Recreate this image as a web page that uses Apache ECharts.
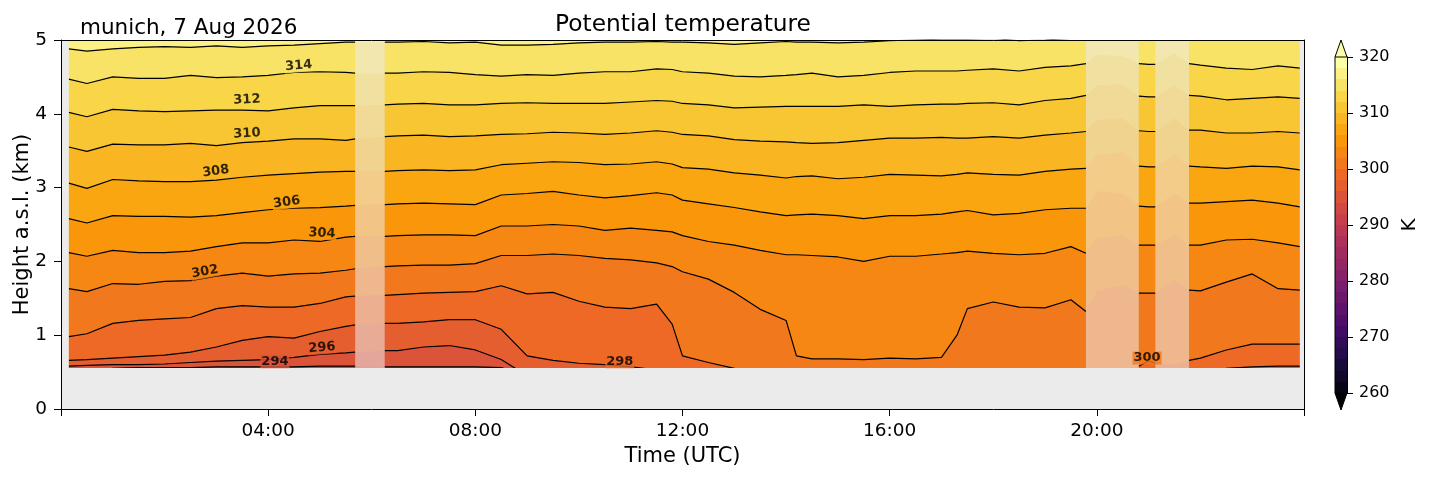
<!DOCTYPE html>
<html>
<head>
<meta charset="utf-8">
<script src="https://cdn.jsdelivr.net/npm/echarts@6/dist/echarts.min.js"></script>
<style>
html,body{margin:0;padding:0;background:#fff}
#chart{width:1429px;height:478px}
</style>
</head>
<body>
<div id="chart"></div>
<script>
// time of each profile, hours UTC
var times = [0.15,0.5,1,1.5,2,2.5,3,3.5,4,4.5,5,5.5,5.68,6,6.25,6.5,7,7.5,8,8.5,9,9.5,10,10.5,11,11.5,11.8,12,12.5,13,13.5,14,14.2,14.5,15,15.5,16,16.5,17,17.3,17.5,18,18.5,19,19.5,19.79,20,20.5,20.81,21,21.13,21.5,21.78,22,22.5,23,23.5,23.92];

// height (km) of each isentrope
var h316 = [4.88,4.85,4.88,4.90,4.91,4.90,4.92,4.90,4.92,4.93,4.95,4.97,4.97,4.97,4.97,4.97,4.98,4.96,4.97,4.93,4.93,4.94,4.96,4.97,4.97,4.98,4.97,4.97,4.96,4.94,4.96,4.98,4.97,4.97,4.96,4.97,4.99,5.00,5.01,5.01,5.01,5.02,4.99,5.00,5.02,5.05,5.05,5.05,5.05,5.05,5.05,5.05,5.05,5.05,5.05,5.05,5.05,5.05];
var h314 = [4.47,4.41,4.50,4.48,4.48,4.52,4.49,4.50,4.52,4.56,4.57,4.56,4.55,4.55,4.55,4.55,4.57,4.56,4.53,4.51,4.53,4.52,4.55,4.57,4.57,4.61,4.60,4.57,4.55,4.51,4.50,4.52,4.53,4.55,4.50,4.52,4.56,4.58,4.58,4.58,4.59,4.61,4.58,4.63,4.65,4.68,4.80,4.78,4.68,4.67,4.67,4.82,4.68,4.66,4.62,4.60,4.65,4.62];
var h312 = [4.02,3.96,4.06,4.04,4.03,4.04,4.05,4.05,4.04,4.08,4.11,4.11,4.11,4.12,4.12,4.13,4.14,4.12,4.12,4.14,4.15,4.14,4.14,4.14,4.16,4.18,4.17,4.14,4.12,4.08,4.09,4.10,4.10,4.10,4.10,4.12,4.10,4.12,4.13,4.13,4.14,4.15,4.12,4.18,4.21,4.25,4.39,4.40,4.24,4.23,4.23,4.39,4.25,4.24,4.19,4.21,4.23,4.21];
var h310 = [3.55,3.49,3.59,3.58,3.58,3.60,3.57,3.61,3.63,3.66,3.66,3.64,3.66,3.68,3.69,3.70,3.71,3.69,3.70,3.72,3.73,3.75,3.74,3.72,3.74,3.77,3.75,3.72,3.70,3.65,3.63,3.62,3.61,3.60,3.61,3.64,3.67,3.67,3.68,3.67,3.67,3.69,3.67,3.71,3.74,3.76,3.92,3.94,3.77,3.76,3.76,3.94,3.78,3.78,3.74,3.74,3.76,3.74];
var h308 = [3.06,2.99,3.11,3.09,3.08,3.08,3.10,3.14,3.17,3.19,3.21,3.22,3.22,3.22,3.22,3.23,3.24,3.23,3.24,3.31,3.33,3.35,3.34,3.31,3.32,3.35,3.32,3.27,3.25,3.20,3.17,3.13,3.15,3.16,3.12,3.14,3.18,3.17,3.16,3.18,3.20,3.18,3.17,3.22,3.25,3.26,3.44,3.48,3.29,3.28,3.28,3.44,3.29,3.28,3.26,3.29,3.28,3.24];
var h306 = [2.58,2.52,2.62,2.61,2.61,2.60,2.62,2.66,2.70,2.72,2.73,2.75,2.76,2.77,2.77,2.78,2.79,2.78,2.77,2.90,2.92,2.95,2.90,2.86,2.89,2.93,2.90,2.83,2.78,2.73,2.67,2.62,2.63,2.64,2.62,2.58,2.62,2.62,2.64,2.67,2.69,2.63,2.65,2.70,2.72,2.72,2.95,2.92,2.75,2.74,2.74,2.92,2.79,2.79,2.81,2.83,2.79,2.74];
var h304 = [2.12,2.07,2.15,2.12,2.12,2.14,2.20,2.25,2.25,2.29,2.27,2.33,2.34,2.34,2.34,2.35,2.36,2.36,2.35,2.48,2.48,2.50,2.48,2.42,2.45,2.42,2.40,2.35,2.27,2.22,2.15,2.09,2.09,2.08,2.06,2.00,2.07,2.07,2.10,2.12,2.14,2.11,2.09,2.11,2.20,2.11,2.31,2.36,2.22,2.22,2.22,2.36,2.22,2.22,2.29,2.30,2.25,2.20];
var h302 = [1.63,1.59,1.70,1.69,1.73,1.74,1.80,1.84,1.80,1.83,1.84,1.88,1.90,1.92,1.93,1.94,1.95,1.95,1.97,2.08,2.08,2.10,2.08,2.04,2.02,1.98,1.93,1.86,1.76,1.58,1.35,1.20,0.72,0.68,0.68,0.67,0.69,0.68,0.70,1.00,1.36,1.45,1.38,1.37,1.48,1.32,1.60,1.68,1.57,1.57,1.57,1.75,1.61,1.60,1.72,1.83,1.63,1.61];
var h300 = [0.98,1.02,1.16,1.20,1.22,1.24,1.36,1.40,1.38,1.38,1.43,1.52,1.53,1.54,1.54,1.55,1.57,1.58,1.59,1.67,1.56,1.58,1.46,1.38,1.36,1.42,1.15,0.72,0.63,0.55,0.45,0.45,0.45,0.45,0.45,0.45,0.45,0.45,0.45,0.45,0.45,0.45,0.45,0.45,0.45,0.45,0.50,0.55,0.58,0.65,0.62,0.60,0.66,0.69,0.80,0.88,0.88,0.88];
var h298 = [0.66,0.67,0.69,0.71,0.73,0.77,0.84,0.93,0.98,0.96,1.05,1.12,1.14,1.15,1.16,1.16,1.18,1.21,1.21,1.08,0.72,0.66,0.62,0.60,0.57,0.53,0.45,0.45,0.45,0.45,0.45,0.45,0.45,0.45,0.45,0.45,0.45,0.45,0.45,0.45,0.45,0.45,0.45,0.45,0.45,0.45,0.45,0.45,0.45,0.45,0.45,0.45,0.45,0.45,0.55,0.57,0.58,0.58];
var h296 = [0.58,0.59,0.60,0.60,0.61,0.63,0.65,0.66,0.67,0.70,0.74,0.76,0.77,0.78,0.79,0.79,0.84,0.86,0.80,0.67,0.45,0.45,0.45,0.45,0.45,0.45,0.45,0.45,0.45,0.45,0.45,0.45,0.45,0.45,0.45,0.45,0.45,0.45,0.45,0.45,0.45,0.45,0.45,0.45,0.45,0.45,0.45,0.45,0.45,0.45,0.45,0.45,0.45,0.45,0.45,0.45,0.45,0.45];
var h294 = [0.45,0.45,0.55,0.56,0.56,0.56,0.57,0.57,0.57,0.57,0.58,0.58,0.58,0.58,0.57,0.57,0.57,0.57,0.57,0.56,0.45,0.45,0.45,0.45,0.45,0.45,0.45,0.45,0.45,0.45,0.45,0.45,0.45,0.45,0.45,0.45,0.45,0.45,0.45,0.45,0.45,0.45,0.45,0.45,0.45,0.45,0.45,0.45,0.45,0.45,0.45,0.45,0.45,0.45,0.45,0.45,0.45,0.45];

var levels = [316,314,312,310,308,306,304,302,300,298,296,294];
var heights = [h316,h314,h312,h310,h308,h306,h304,h302,h300,h298,h296,h294];

// periods without data (hours UTC)
var gapStart = [5.68, 19.79, 21.13];
var gapEnd = [6.25, 20.81, 21.78];
var firstTime = 0.15, lastTime = 23.92, groundTop = 0.555;

// inline contour labels
var labelText = ['314','312','310','308','306','304','302','296','294','298','300'];
var labelLevel = [314,312,310,308,306,304,302,296,294,298,300];
var labelTime = [4.59,3.59,3.59,2.99,4.36,5.04,2.78,5.04,4.13,10.79,20.97];
var labelHeight = [4.65,4.19,3.73,3.22,2.80,2.38,1.86,0.83,0.64,0.64,0.69];
var labelAngle = [5,3,3,8,8,-3,10,5,0,0,0];

var FONT = 'DejaVu Sans';
var inferno = ['#000004','#1b0c42','#4b0c6b','#781c6d','#a52c60','#cf4446','#ed6925','#fb9b06','#f7d13d','#fcffa4'];
function hex(c){ return [parseInt(c.substr(1,2),16),parseInt(c.substr(3,2),16),parseInt(c.substr(5,2),16)]; }
function cmap(f){
	f = Math.max(0, Math.min(1, f));
	var p = f*9, i = Math.min(8, Math.floor(p)), t = p - i;
	var a = hex(inferno[i]), b = hex(inferno[i+1]);
	return 'rgb(' + Math.round(a[0]+(b[0]-a[0])*t) + ',' + Math.round(a[1]+(b[1]-a[1])*t) + ',' + Math.round(a[2]+(b[2]-a[2])*t) + ')';
}
function bandColor(L){ return cmap((L - 260)/60); }
function inGap(t){
	for(var g=0; g<gapStart.length; g++){ if(t > gapStart[g] && t < gapEnd[g]) return true; }
	return false;
}

var series = [];
// filled bands: each isentrope fills down to the axis with the colour of the band below it
levels.forEach(function(L, k){
	series.push({
		type:'line', silent:true, symbol:'none', z:2, animation:false,
		data: times.map(function(t,i){ return [t, heights[k][i]]; }),
		lineStyle:{width:0},
		areaStyle:{color:bandColor(L), opacity:1, origin:'start'}
	});
});
// black contour lines, broken in the data gaps
levels.forEach(function(L, k){
	series.push({
		type:'line', silent:true, symbol:'none', z:3, animation:false,
		data: times.map(function(t,i){ return [t, inGap(t) ? '-' : heights[k][i]]; }),
		lineStyle:{color:'#000', width:1.2}
	});
});
// masks: ground, no-data edges and faded gaps
var masks = [[0,0,24,groundTop,0],[0,0,firstTime,5,0],[lastTime,0,24,5,0]];
gapStart.forEach(function(s,g){ masks.push([s,groundTop,gapEnd[g],5,1]); });
series.push({
	type:'custom', silent:true, z:4, animation:false, clip:true,
	data: masks,
	renderItem: function(params, api){
		var p0 = api.coord([api.value(0), api.value(3)]);
		var p1 = api.coord([api.value(2), api.value(1)]);
		var faded = api.value(4) === 1;
		return {type:'rect', shape:{x:p0[0], y:p0[1], width:p1[0]-p0[0], height:p1[1]-p0[1]},
			style:{fill: faded ? 'rgba(235,235,235,0.55)' : '#ebebeb'}};
	}
});
// contour labels (the box hides the line under the text, like an inline label)
series.push({
	type:'scatter', silent:true, z:5, animation:false, symbolSize:1, itemStyle:{color:'rgba(0,0,0,0)'},
	data: labelText.map(function(s,i){
		return {name:s, value:[labelTime[i], labelHeight[i]],
			label:{rotate:labelAngle[i], backgroundColor:bandColor(labelLevel[i]+2)}};
	}),
	label:{show:true, position:'inside', formatter:'{b}', color:'#000', fontWeight:'bold', fontSize:13, fontFamily:FONT, padding:[0,1]}
});

// discrete colour bar, one step per 2 K band
var cb = {left:1335, top:57, width:12, height:336, tip:17};
var stops = [];
for(var b=260; b<320; b+=2){
	stops.push({offset:(b-260)/60, color:bandColor(b+2)});
	stops.push({offset:(b+2-260)/60, color:bandColor(b+2)});
}

var myChart = echarts.init(document.getElementById('chart'));
var option = {
	animation:false,
	backgroundColor:'#fff',
	textStyle:{fontFamily:FONT},
	title:[
		{text:'Potential temperature', left:678, top:8, textAlign:'center', textStyle:{fontSize:23.3, fontWeight:'normal', color:'#000', fontFamily:FONT}},
		{text:'munich, 7 Aug 2026', left:75, top:12, textStyle:{fontSize:21.5, fontWeight:'normal', color:'#000', fontFamily:FONT}}
	],
	grid:[
		{left:61, top:40, right:125, bottom:69, show:true, borderWidth:0, outerBoundsMode:'none', containLabel:false, backgroundColor:bandColor(318)},
		{left:cb.left, top:cb.top, width:cb.width, height:cb.height, show:true, borderWidth:0, outerBoundsMode:'none', containLabel:false,
			backgroundColor:new echarts.graphic.LinearGradient(0,1,0,0,stops)}
	],
	xAxis:[
		{gridIndex:0, type:'value', min:0, max:24, interval:4, z:10,
			axisLine:{lineStyle:{color:'#000', width:1}},
			axisTick:{length:7, lineStyle:{color:'#000'}},
			axisLabel:{fontSize:18.5, color:'#000', margin:13, fontFamily:FONT,
				formatter:function(v){ if(v===0||v===24) return ''; return (v<10?'0':'')+v+':00'; }},
			splitLine:{show:false},
			name:'Time (UTC)', nameLocation:'middle', nameGap:36,
			nameTextStyle:{fontSize:21, color:'#000', fontFamily:FONT}},
		{gridIndex:0, type:'value', min:0, max:24, position:'top', z:10,
			axisLine:{onZero:false, lineStyle:{color:'#000', width:1}},
			axisTick:{show:false}, axisLabel:{show:false}, splitLine:{show:false}},
		{gridIndex:1, type:'value', min:0, max:1, show:false}
	],
	yAxis:[
		{gridIndex:0, type:'value', min:0, max:5, interval:1, z:10,
			axisLine:{show:true, lineStyle:{color:'#000', width:1}},
			axisTick:{show:true, length:7, lineStyle:{color:'#000'}},
			axisLabel:{fontSize:18.5, color:'#000', margin:14, fontFamily:FONT},
			splitLine:{show:false},
			name:'Height a.s.l. (km)', nameLocation:'middle', nameGap:28, nameMoveOverlap:false,
			nameTextStyle:{fontSize:21, color:'#000', fontFamily:FONT}},
		{gridIndex:0, type:'value', min:0, max:5, position:'right', z:10,
			axisLine:{show:true, onZero:false, lineStyle:{color:'#000', width:1}},
			axisTick:{show:false}, axisLabel:{show:false}, splitLine:{show:false}},
		{gridIndex:1, type:'value', min:260, max:320, interval:10, position:'right', z:10,
			axisLine:{show:true, onZero:false, lineStyle:{color:'#000', width:1}},
			axisTick:{show:true, length:6, lineStyle:{color:'#000'}},
			axisLabel:{fontSize:16, color:'#000', margin:12, fontFamily:FONT},
			splitLine:{show:false},
			name:'K', nameLocation:'middle', nameGap:53,
			nameTextStyle:{fontSize:20, color:'#000', fontFamily:FONT}}
	],
	graphic:[
		{type:'polygon', z:20, shape:{points:[[cb.left,cb.top],[cb.left+cb.width/2,cb.top-cb.tip],[cb.left+cb.width,cb.top]]},
			style:{fill:inferno[9], stroke:'#000', lineWidth:1}},
		{type:'polygon', z:20, shape:{points:[[cb.left,cb.top+cb.height],[cb.left+cb.width/2,cb.top+cb.height+cb.tip],[cb.left+cb.width,cb.top+cb.height]]},
			style:{fill:inferno[0], stroke:'#000', lineWidth:1}},
		{type:'polyline', z:20, shape:{points:[[cb.left,cb.top],[cb.left,cb.top+cb.height]]},
			style:{stroke:'#000', lineWidth:1}}
	],
	series:series
};
myChart.setOption(option);
</script>
</body>
</html>
